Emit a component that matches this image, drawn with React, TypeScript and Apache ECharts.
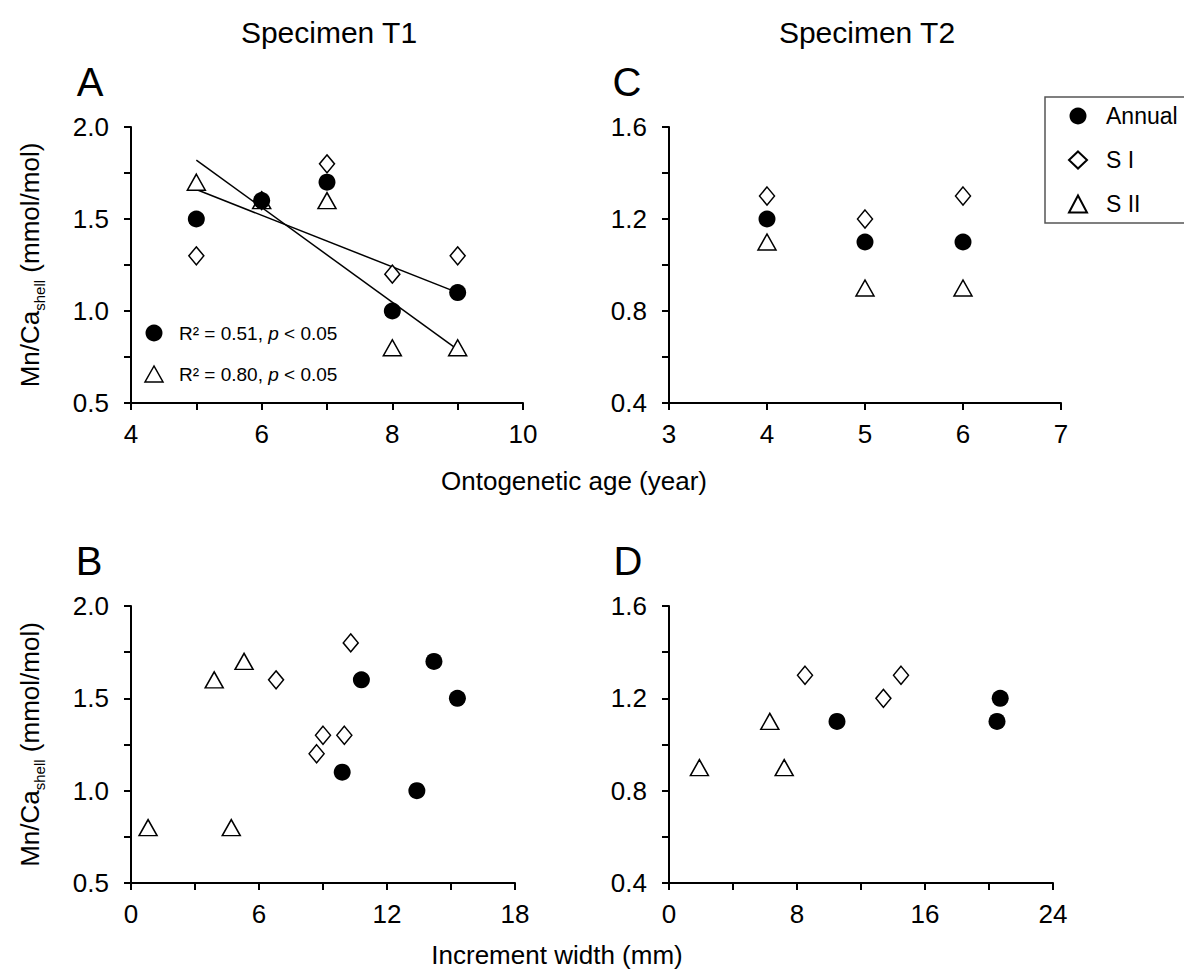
import React, { useEffect, useRef } from 'react';
import * as echarts from 'echarts';

// ---- Panel A / C : ontogenetic age vs Mn/Ca ----
const ageT1 = [5, 6, 7, 8, 9];
const annualT1 = [1.5, 1.6, 1.7, 1.0, 1.1];
const s1T1 = [1.3, 1.6, 1.8, 1.2, 1.3];
const s2T1 = [1.7, 1.6, 1.6, 0.8, 0.8];

// regression lines (end points)
const fitAnnualT1X = [5, 9];
const fitAnnualT1Y = [1.66, 1.1];
const fitS2T1X = [5, 9];
const fitS2T1Y = [1.82, 0.79];

const ageT2 = [4, 5, 6];
const annualT2 = [1.2, 1.1, 1.1];
const s1T2 = [1.3, 1.2, 1.3];
const s2T2 = [1.1, 0.9, 0.9];

// ---- Panel B / D : increment width vs Mn/Ca ----
const incAnnualT1 = [15.3, 10.8, 14.2, 13.4, 9.9];
const mnAnnualT1B = [1.5, 1.6, 1.7, 1.0, 1.1];
const incS1T1 = [9.0, 6.8, 10.3, 8.7, 10.0];
const mnS1T1B = [1.3, 1.6, 1.8, 1.2, 1.3];
const incS2T1 = [5.3, 3.9, 0.8, 4.7];
const mnS2T1B = [1.7, 1.6, 0.8, 0.8];

const incAnnualT2 = [20.7, 10.5, 20.5];
const mnAnnualT2D = [1.2, 1.1, 1.1];
const incS1T2 = [8.5, 13.4, 14.5];
const mnS1T2D = [1.3, 1.2, 1.3];
const incS2T2 = [6.3, 1.9, 7.2];
const mnS2T2D = [1.1, 0.9, 0.9];

const seriesNames = ['Annual', 'S I', 'S II'];
const titles = ['Specimen T1', 'Specimen T2'];
const panelLetters = ['A', 'B', 'C', 'D'];
const xAxisTitles = ['Ontogenetic age (year)', 'Increment width (mm)'];
const annotationTexts = ['R² = 0.51, ', 'R² = 0.80, '];

const FONT = '"Liberation Sans", Arial, Helvetica, sans-serif';

const zip = (xs: number[], ys: number[]) => xs.map((x, i) => [x, ys[i]]);

function makeAxis(
  kind: 'x' | 'y',
  gridIndex: number,
  min: number,
  max: number,
  interval: number,
  major: number,
  extra: any = {}
) {
  return {
    type: 'value',
    gridIndex,
    min,
    max,
    interval,
    splitLine: { show: false },
    axisLine: { show: true, onZero: false, lineStyle: { color: '#000', width: 2 } },
    axisTick: { show: true, length: 7, lineStyle: { color: '#000', width: 2 } },
    axisLabel: {
      show: true,
      color: '#000',
      fontSize: 26,
      fontFamily: FONT,
      margin: kind === 'x' ? 18 : 22,
      formatter: (v: number) => {
        const k = (v - min) / major;
        if (Math.abs(k - Math.round(k)) > 1e-6) return '';
        return kind === 'y' ? v.toFixed(1) : String(Math.round(v));
      },
    },
    ...extra,
  };
}

const yName = {
  name: '{a|Mn/Ca}{s|shell}{a| (mmol/mol)}',
  nameLocation: 'middle',
  nameRotate: 90,
  nameGap: 84,
  nameTextStyle: {
    color: '#000',
    fontFamily: FONT,
    fontSize: 26,
    rich: {
      a: { fontSize: 26, fontFamily: FONT, color: '#000', lineHeight: 34, verticalAlign: 'middle' },
      s: { fontSize: 15, fontFamily: FONT, color: '#000', lineHeight: 34, verticalAlign: 'bottom' },
    },
  },
};

const annualStyle = {
  symbol: 'circle',
  symbolSize: 17,
  itemStyle: { color: '#000', opacity: 1 },
};
const s1Style = {
  symbol: 'diamond',
  symbolSize: [15, 18],
  itemStyle: { color: '#fff', borderColor: '#000', borderWidth: 1.5, opacity: 1 },
};
const s2Style = {
  symbol: 'triangle',
  symbolSize: [18, 16],
  itemStyle: { color: '#fff', borderColor: '#000', borderWidth: 1.5, opacity: 1 },
};

function scatter(name: string, style: any, idx: number, data: number[][]) {
  return { type: 'scatter', name, xAxisIndex: idx, yAxisIndex: idx, data, z: 3, ...style };
}

function fitLine(idx: number, data: number[][]) {
  return {
    type: 'line',
    name: 'fit',
    xAxisIndex: idx,
    yAxisIndex: idx,
    data,
    showSymbol: false,
    symbol: 'none',
    z: 2,
    silent: true,
    lineStyle: { color: '#000', width: 1.5 },
  };
}

const textEl = (text: string, x: number, y: number, size: number, align = 'center') => ({
  type: 'text',
  x,
  y,
  style: {
    text,
    fill: '#000',
    fontSize: size,
    fontFamily: FONT,
    textAlign: align,
    textVerticalAlign: 'middle',
    align,
    verticalAlign: 'middle',
  },
});

const annotationRich = {
  n: { fontSize: 19, fontFamily: FONT, color: '#000' },
  i: { fontSize: 19, fontFamily: FONT, color: '#000', fontStyle: 'italic' },
};

const annoText = (t: string, x: number, y: number) => ({
  type: 'text',
  x,
  y,
  style: {
    text: `{n|${t}}{i|p}{n| < 0.05}`,
    rich: annotationRich,
    fill: '#000',
    fontSize: 19,
    fontFamily: FONT,
    textAlign: 'left',
    textVerticalAlign: 'middle',
    align: 'left',
    verticalAlign: 'middle',
  },
});

export default function App() {
  const ref = useRef<HTMLDivElement>(null);

  useEffect(() => {
    if (!ref.current) return;
    const chart = echarts.init(ref.current, undefined, { renderer: 'svg' });

    const option: any = {
      animation: false,
      backgroundColor: '#fff',
      textStyle: { fontFamily: FONT },
      grid: [
        { left: 131, top: 127, width: 392, height: 276 }, // A
        { left: 131, top: 606, width: 384, height: 277 }, // B
        { left: 669, top: 127, width: 392, height: 276 }, // C
        { left: 669, top: 606, width: 384, height: 277 }, // D
      ],
      xAxis: [
        makeAxis('x', 0, 4, 10, 1, 2),
        makeAxis('x', 1, 0, 18, 3, 6),
        makeAxis('x', 2, 3, 7, 1, 1),
        makeAxis('x', 3, 0, 24, 4, 8),
      ],
      yAxis: [
        makeAxis('y', 0, 0.5, 2.0, 0.25, 0.5, yName),
        makeAxis('y', 1, 0.5, 2.0, 0.25, 0.5, yName),
        makeAxis('y', 2, 0.4, 1.6, 0.2, 0.4),
        makeAxis('y', 3, 0.4, 1.6, 0.2, 0.4),
      ],
      legend: {
        data: seriesNames,
        orient: 'vertical',
        left: 1045,
        top: 97,
        itemWidth: 18,
        itemHeight: 17,
        itemGap: 20,
        padding: [7, 120, 7, 23],
        borderColor: '#555',
        borderWidth: 1.5,
        backgroundColor: '#fff',
        selectedMode: false,
        itemStyle: { opacity: 1 },
        textStyle: {
          color: '#000',
          fontSize: 23,
          fontFamily: FONT,
          lineHeight: 24,
          padding: [0, 0, 0, 14],
        },
      },
      series: [
        fitLine(0, zip(fitAnnualT1X, fitAnnualT1Y)),
        fitLine(0, zip(fitS2T1X, fitS2T1Y)),
        // A
        scatter(seriesNames[1], s1Style, 0, zip(ageT1, s1T1)),
        scatter(seriesNames[2], s2Style, 0, zip(ageT1, s2T1)),
        scatter(seriesNames[0], annualStyle, 0, zip(ageT1, annualT1)),
        // B
        scatter(seriesNames[1], s1Style, 1, zip(incS1T1, mnS1T1B)),
        scatter(seriesNames[2], s2Style, 1, zip(incS2T1, mnS2T1B)),
        scatter(seriesNames[0], annualStyle, 1, zip(incAnnualT1, mnAnnualT1B)),
        // C
        scatter(seriesNames[1], s1Style, 2, zip(ageT2, s1T2)),
        scatter(seriesNames[2], s2Style, 2, zip(ageT2, s2T2)),
        scatter(seriesNames[0], annualStyle, 2, zip(ageT2, annualT2)),
        // D
        scatter(seriesNames[1], s1Style, 3, zip(incS1T2, mnS1T2D)),
        scatter(seriesNames[2], s2Style, 3, zip(incS2T2, mnS2T2D)),
        scatter(seriesNames[0], annualStyle, 3, zip(incAnnualT2, mnAnnualT2D)),
      ],
      graphic: [
        textEl(titles[0], 329, 32, 30),
        textEl(titles[1], 867, 32, 30),
        textEl(panelLetters[0], 90, 82, 40),
        textEl(panelLetters[1], 89, 561, 40),
        textEl(panelLetters[2], 627, 82, 40),
        textEl(panelLetters[3], 628, 561, 40),
        textEl(xAxisTitles[0], 574, 481, 26),
        textEl(xAxisTitles[1], 557, 955, 26),
        { type: 'circle', shape: { cx: 154, cy: 333, r: 8.5 }, style: { fill: '#000' } },
        annoText(annotationTexts[0], 179, 333),
        {
          type: 'polygon',
          shape: { points: [[154, 366], [145, 382], [163, 382]] },
          style: { fill: '#fff', stroke: '#000', lineWidth: 1.5 },
        },
        annoText(annotationTexts[1], 179, 374),
      ],
    };

    chart.setOption(option);
    return () => {
      chart.dispose();
    };
  }, []);

  return (
    <div
      ref={ref}
      style={{ position: 'absolute', left: 0, top: 0, width: 1184, height: 979, background: '#fff' }}
    />
  );
}
